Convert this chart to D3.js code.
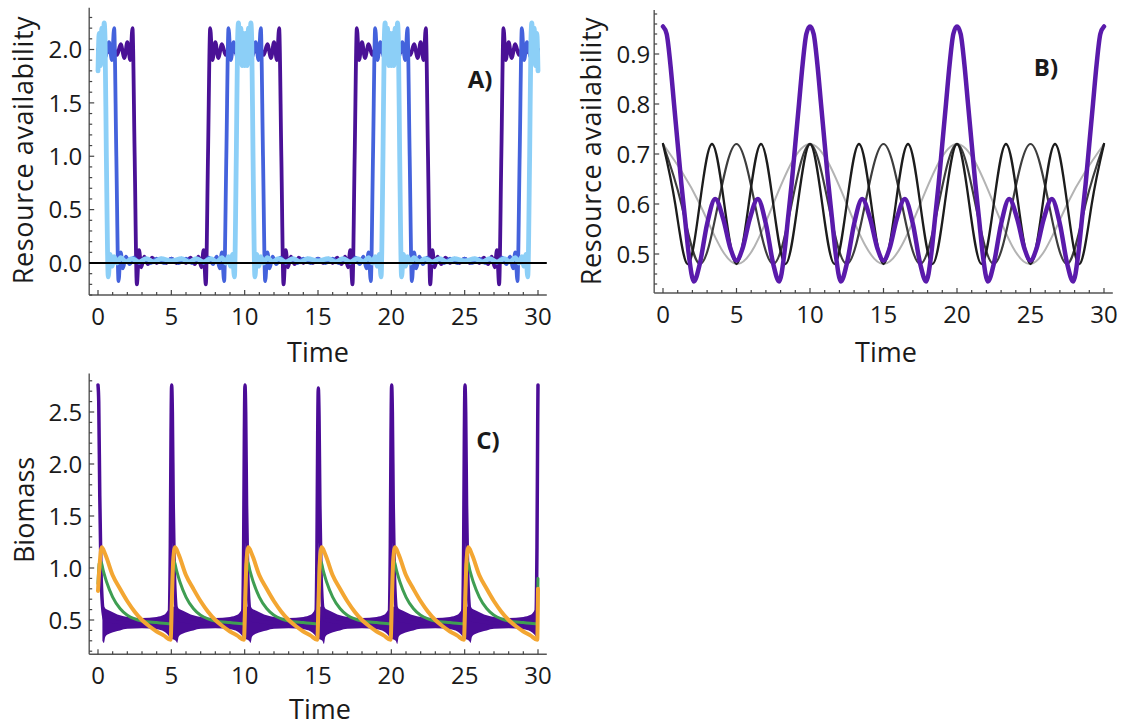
<!DOCTYPE html>
<html>
<head>
<meta charset="utf-8">
<script src="https://cdn.jsdelivr.net/npm/d3@7"></script>
<style>
body{margin:0;background:#fff;}
svg text{font-family:"Open Sans",sans-serif;fill:#1a1a1a;}
</style>
</head>
<body>
<svg id="chart" width="1124" height="728"></svg>
<script>
// ---- data ----
var timeTicks = [0, 5, 10, 15, 20, 25, 30];
var ticksA = [0, 0.5, 1, 1.5, 2];
var ticksB = [0.5, 0.6, 0.7, 0.8, 0.9];
var ticksC = [0.5, 1, 1.5, 2, 2.5];

// A) resource availability, three pulse widths
var purpleA = [[0,2.0],[0.2,2.01],[0.6,1.97],[1.0,2.03],[1.3,1.95],[1.55,2.05],[1.8,1.92],[2.0,2.07],[2.2,1.9],[2.35,2.2],[2.5,1.0],
[2.65,-0.2],[2.8,0.12],[2.95,-0.04],[3.15,0.06],[3.4,-0.01],[3.7,0.05],[4.0,0.0],[4.3,0.04],[4.65,0.0],[5.0,0.04],[5.35,0.0],[5.7,0.04],[6.0,0.0],[6.3,0.05],[6.6,-0.01],[6.85,0.06],[7.05,-0.04],[7.2,0.12],[7.35,-0.2],
[7.5,1.0],[7.65,2.2],[7.8,1.9],[8.0,2.07],[8.2,1.92],[8.45,2.05],[8.7,1.95],[9.0,2.03],[9.4,1.97],[9.8,2.01],[10.2,2.01],[10.6,1.97],[11.0,2.03],[11.3,1.95],[11.55,2.05],[11.8,1.92],[12.0,2.07],[12.2,1.9],[12.35,2.2],[12.5,1.0],
[12.65,-0.2],[12.8,0.12],[12.95,-0.04],[13.15,0.06],[13.4,-0.01],[13.7,0.05],[14.0,0.0],[14.3,0.04],[14.65,0.0],[15.0,0.04],[15.35,0.0],[15.7,0.04],[16.0,0.0],[16.3,0.05],[16.6,-0.01],[16.85,0.06],[17.05,-0.04],[17.2,0.12],[17.35,-0.2],
[17.5,1.0],[17.65,2.2],[17.8,1.9],[18.0,2.07],[18.2,1.92],[18.45,2.05],[18.7,1.95],[19.0,2.03],[19.4,1.97],[19.8,2.01],[20.2,2.01],[20.6,1.97],[21.0,2.03],[21.3,1.95],[21.55,2.05],[21.8,1.92],[22.0,2.07],[22.2,1.9],[22.35,2.2],[22.5,1.0],
[22.65,-0.2],[22.8,0.12],[22.95,-0.04],[23.15,0.06],[23.4,-0.01],[23.7,0.05],[24.0,0.0],[24.3,0.04],[24.65,0.0],[25.0,0.04],[25.35,0.0],[25.7,0.04],[26.0,0.0],[26.3,0.05],[26.6,-0.01],[26.85,0.06],[27.05,-0.04],[27.2,0.12],[27.35,-0.2],
[27.5,1.0],[27.65,2.2],[27.8,1.9],[28.0,2.07],[28.2,1.92],[28.45,2.05],[28.7,1.95],[29.0,2.03],[29.4,1.97],[29.8,2.01],[30.0,2.0]];

var blueA = [[0,1.98],[0.25,2.04],[0.5,1.93],[0.75,2.07],[0.95,1.9],[1.1,2.2],[1.25,1.0],
[1.4,-0.17],[1.55,0.1],[1.7,-0.05],[1.9,0.06],[2.15,-0.01],[2.45,0.05],[2.8,0.0],[3.2,0.04],[3.6,0.0],[4.0,0.04],[4.5,0.0],[5.0,0.04],[5.5,0.0],[6.0,0.04],[6.4,0.0],[6.8,0.04],[7.2,0.0],[7.55,0.05],[7.85,-0.01],[8.1,0.06],[8.3,-0.05],[8.45,0.1],[8.6,-0.17],
[8.75,1.0],[8.9,2.2],[9.05,1.9],[9.25,2.07],[9.5,1.93],[9.75,2.04],[10.0,1.98],[10.25,2.04],[10.5,1.93],[10.75,2.07],[10.95,1.9],[11.1,2.2],[11.25,1.0],
[11.4,-0.17],[11.55,0.1],[11.7,-0.05],[11.9,0.06],[12.15,-0.01],[12.45,0.05],[12.8,0.0],[13.2,0.04],[13.6,0.0],[14.0,0.04],[14.5,0.0],[15.0,0.04],[15.5,0.0],[16.0,0.04],[16.4,0.0],[16.8,0.04],[17.2,0.0],[17.55,0.05],[17.85,-0.01],[18.1,0.06],[18.3,-0.05],[18.45,0.1],[18.6,-0.17],
[18.75,1.0],[18.9,2.2],[19.05,1.9],[19.25,2.07],[19.5,1.93],[19.75,2.04],[20.0,1.98],[20.25,2.04],[20.5,1.93],[20.75,2.07],[20.95,1.9],[21.1,2.2],[21.25,1.0],
[21.4,-0.17],[21.55,0.1],[21.7,-0.05],[21.9,0.06],[22.15,-0.01],[22.45,0.05],[22.8,0.0],[23.2,0.04],[23.6,0.0],[24.0,0.04],[24.5,0.0],[25.0,0.04],[25.5,0.0],[26.0,0.04],[26.4,0.0],[26.8,0.04],[27.2,0.0],[27.55,0.05],[27.85,-0.01],[28.1,0.06],[28.3,-0.05],[28.45,0.1],[28.6,-0.17],
[28.75,1.0],[28.9,2.2],[29.05,1.9],[29.25,2.07],[29.5,1.93],[29.75,2.04],[30.0,1.98]];

var lightA = [[0,1.8],[0.08,2.15],[0.17,1.85],[0.26,2.2],[0.35,1.95],[0.42,2.25],[0.48,2.1],[0.57,1.0],
[0.7,-0.13],[0.82,0.08],[0.95,-0.03],[1.1,0.06],[1.3,0.0],[1.55,0.05],[1.9,0.01],[2.3,0.04],[2.8,0.01],[3.3,0.04],[3.8,0.01],[4.3,0.04],[5.0,0.02],[5.7,0.04],[6.2,0.01],[6.7,0.04],[7.2,0.01],[7.7,0.04],[8.1,0.01],[8.45,0.05],[8.7,0.0],[8.9,0.06],[9.05,-0.03],[9.18,0.08],[9.3,-0.13],
[9.43,1.0],[9.52,2.1],[9.58,2.25],[9.65,1.95],[9.74,2.2],[9.83,1.85],[9.92,2.15],[10.0,1.85],[10.08,2.15],[10.17,1.85],[10.26,2.2],[10.35,1.95],[10.42,2.25],[10.48,2.1],[10.57,1.0],
[10.7,-0.13],[10.82,0.08],[10.95,-0.03],[11.1,0.06],[11.3,0.0],[11.55,0.05],[11.9,0.01],[12.3,0.04],[12.8,0.01],[13.3,0.04],[13.8,0.01],[14.3,0.04],[15.0,0.02],[15.7,0.04],[16.2,0.01],[16.7,0.04],[17.2,0.01],[17.7,0.04],[18.1,0.01],[18.45,0.05],[18.7,0.0],[18.9,0.06],[19.05,-0.03],[19.18,0.08],[19.3,-0.13],
[19.43,1.0],[19.52,2.1],[19.58,2.25],[19.65,1.95],[19.74,2.2],[19.83,1.85],[19.92,2.15],[20.0,1.85],[20.08,2.15],[20.17,1.85],[20.26,2.2],[20.35,1.95],[20.42,2.25],[20.48,2.1],[20.57,1.0],
[20.7,-0.13],[20.82,0.08],[20.95,-0.03],[21.1,0.06],[21.3,0.0],[21.55,0.05],[21.9,0.01],[22.3,0.04],[22.8,0.01],[23.3,0.04],[23.8,0.01],[24.3,0.04],[25.0,0.02],[25.7,0.04],[26.2,0.01],[26.7,0.04],[27.2,0.01],[27.7,0.04],[28.1,0.01],[28.45,0.05],[28.7,0.0],[28.9,0.06],[29.05,-0.03],[29.18,0.08],[29.3,-0.13],
[29.43,1.0],[29.52,2.1],[29.58,2.25],[29.65,1.95],[29.74,2.2],[29.83,1.85],[29.92,2.15],[30.0,1.8]];

// B) resource availability, smooth oscillations
var purpleB = [[0,0.955],[0.25,0.94],[0.5,0.88],[0.75,0.8],[1.0,0.72],[1.25,0.64],[1.5,0.57],[1.75,0.5],[2.1,0.445],[2.5,0.48],[3.0,0.56],[3.55,0.61],[4.1,0.57],[4.6,0.51],[5.0,0.487],[5.4,0.51],[5.9,0.57],[6.45,0.61],[7.0,0.56],[7.5,0.48],[7.9,0.445],[8.25,0.5],[8.5,0.57],[8.75,0.64],[9.0,0.72],[9.25,0.8],[9.5,0.88],[9.75,0.94],[10.0,0.955],
[10.25,0.94],[10.5,0.88],[10.75,0.8],[11.0,0.72],[11.25,0.64],[11.5,0.57],[11.75,0.5],[12.1,0.445],[12.5,0.48],[13.0,0.56],[13.55,0.61],[14.1,0.57],[14.6,0.51],[15.0,0.487],[15.4,0.51],[15.9,0.57],[16.45,0.61],[17.0,0.56],[17.5,0.48],[17.9,0.445],[18.25,0.5],[18.5,0.57],[18.75,0.64],[19.0,0.72],[19.25,0.8],[19.5,0.88],[19.75,0.94],[20.0,0.955],
[20.25,0.94],[20.5,0.88],[20.75,0.8],[21.0,0.72],[21.25,0.64],[21.5,0.57],[21.75,0.5],[22.1,0.445],[22.5,0.48],[23.0,0.56],[23.55,0.61],[24.1,0.57],[24.6,0.51],[25.0,0.487],[25.4,0.51],[25.9,0.57],[26.45,0.61],[27.0,0.56],[27.5,0.48],[27.9,0.445],[28.25,0.5],[28.5,0.57],[28.75,0.64],[29.0,0.72],[29.25,0.8],[29.5,0.88],[29.75,0.94],[30.0,0.955]];

var blackB = [[0,0.72],[0.833,0.6],[1.667,0.48],[2.5,0.6],[3.333,0.72],[4.167,0.6],[5,0.48],[5.833,0.6],[6.667,0.72],[7.5,0.6],[8.333,0.48],[9.167,0.6],[10,0.72],[10.833,0.6],[11.667,0.48],[12.5,0.6],[13.333,0.72],[14.167,0.6],[15,0.48],[15.833,0.6],[16.667,0.72],[17.5,0.6],[18.333,0.48],[19.167,0.6],[20,0.72],[20.833,0.6],[21.667,0.48],[22.5,0.6],[23.333,0.72],[24.167,0.6],[25,0.48],[25.833,0.6],[26.667,0.72],[27.5,0.6],[28.333,0.48],[29.167,0.6],[30,0.72]];
var darkGrayB = [[0,0.72],[1.25,0.6],[2.5,0.48],[3.75,0.6],[5,0.72],[6.25,0.6],[7.5,0.48],[8.75,0.6],[10,0.72],[11.25,0.6],[12.5,0.48],[13.75,0.6],[15,0.72],[16.25,0.6],[17.5,0.48],[18.75,0.6],[20,0.72],[21.25,0.6],[22.5,0.48],[23.75,0.6],[25,0.72],[26.25,0.6],[27.5,0.48],[28.75,0.6],[30,0.72]];
var lightGrayB = [[0,0.72],[2.5,0.6],[5,0.48],[7.5,0.6],[10,0.72],[12.5,0.6],[15,0.48],[17.5,0.6],[20,0.72],[22.5,0.6],[25,0.48],[27.5,0.6],[30,0.72]];

// C) biomass
var purpleC = [[0,2.76],[0.05,2.6],[0.12,1.7],[0.2,1.0],[0.3,0.65],[0.45,0.5],[2.5,0.47],[4.85,0.5],
[4.93,1.2],[4.98,2.3],[5.02,2.76],[5.07,2.5],[5.13,1.6],[5.2,1.0],[5.3,0.65],[5.45,0.5],[7.5,0.47],[9.85,0.5],
[9.93,1.2],[9.98,2.3],[10.02,2.76],[10.07,2.5],[10.13,1.6],[10.2,1.0],[10.3,0.65],[10.45,0.5],[12.5,0.47],[14.85,0.5],
[14.93,1.2],[14.98,2.3],[15.02,2.73],[15.07,2.47],[15.13,1.6],[15.2,1.0],[15.3,0.65],[15.45,0.5],[17.5,0.47],[19.85,0.5],
[19.93,1.2],[19.98,2.3],[20.02,2.76],[20.07,2.5],[20.13,1.6],[20.2,1.0],[20.3,0.65],[20.45,0.5],[22.5,0.47],[24.85,0.5],
[24.93,1.2],[24.98,2.3],[25.02,2.76],[25.07,2.5],[25.13,1.6],[25.2,1.0],[25.3,0.65],[25.45,0.5],[27.5,0.47],[29.85,0.5],
[29.93,1.2],[29.98,2.4],[30.0,2.76]];

// fast oscillation envelope of the purple series: [time, low, high]
var purpleBandC = [[0.3,0.30,0.63],[0.4,0.28,0.63],[0.5,0.34,0.61],[0.8,0.37,0.59],[1.5,0.40,0.545],[2.0,0.415,0.53],[3.0,0.42,0.52],[4.0,0.41,0.53],[4.5,0.39,0.55],[4.75,0.36,0.59],[4.9,0.33,0.62],
[5.3,0.30,0.63],[5.4,0.28,0.63],[5.5,0.34,0.61],[5.8,0.37,0.59],[6.5,0.40,0.545],[7.0,0.415,0.53],[8.0,0.42,0.52],[9.0,0.41,0.53],[9.5,0.39,0.55],[9.75,0.36,0.59],[9.9,0.33,0.62],
[10.3,0.30,0.63],[10.4,0.28,0.63],[10.5,0.34,0.61],[10.8,0.37,0.59],[11.5,0.40,0.545],[12.0,0.415,0.53],[13.0,0.42,0.52],[14.0,0.41,0.53],[14.5,0.39,0.55],[14.75,0.36,0.59],[14.9,0.33,0.62],
[15.3,0.30,0.63],[15.4,0.27,0.63],[15.5,0.34,0.61],[15.8,0.37,0.59],[16.5,0.40,0.545],[17.0,0.415,0.53],[18.0,0.42,0.52],[19.0,0.41,0.53],[19.5,0.39,0.55],[19.75,0.36,0.59],[19.9,0.33,0.62],
[20.3,0.30,0.63],[20.4,0.27,0.63],[20.5,0.34,0.61],[20.8,0.37,0.59],[21.5,0.40,0.545],[22.0,0.415,0.53],[23.0,0.42,0.52],[24.0,0.41,0.53],[24.5,0.39,0.55],[24.75,0.36,0.59],[24.9,0.33,0.62],
[25.3,0.30,0.63],[25.4,0.28,0.63],[25.5,0.34,0.61],[25.8,0.37,0.59],[26.5,0.40,0.545],[27.0,0.415,0.53],[28.0,0.42,0.52],[29.0,0.41,0.53],[29.5,0.39,0.55],[29.75,0.36,0.59],[29.9,0.33,0.62]];

var greenC = [[0,0.85],[0.08,1.04],[0.18,1.07],[0.35,0.98],[0.6,0.86],[1.0,0.72],[1.5,0.61],[2.0,0.545],[2.5,0.51],[3.0,0.49],[4.0,0.475],[4.95,0.465],
[5.05,0.8],[5.1,1.04],[5.18,1.07],[5.35,0.98],[5.6,0.86],[6.0,0.72],[6.5,0.61],[7.0,0.545],[7.5,0.51],[8.0,0.49],[9.0,0.475],[9.95,0.465],
[10.05,0.8],[10.1,1.04],[10.18,1.07],[10.35,0.98],[10.6,0.86],[11.0,0.72],[11.5,0.61],[12.0,0.545],[12.5,0.51],[13.0,0.49],[14.0,0.475],[14.95,0.465],
[15.05,0.8],[15.1,1.04],[15.18,1.07],[15.35,0.98],[15.6,0.86],[16.0,0.72],[16.5,0.61],[17.0,0.545],[17.5,0.51],[18.0,0.49],[19.0,0.475],[19.95,0.465],
[20.05,0.8],[20.1,1.04],[20.18,1.07],[20.35,0.98],[20.6,0.86],[21.0,0.72],[21.5,0.61],[22.0,0.545],[22.5,0.51],[23.0,0.49],[24.0,0.475],[24.95,0.465],
[25.05,0.8],[25.1,1.04],[25.18,1.07],[25.35,0.98],[25.6,0.86],[26.0,0.72],[26.5,0.61],[27.0,0.545],[27.5,0.51],[28.0,0.49],[29.0,0.475],[29.95,0.465],
[30.0,0.9]];

var orangeC = [[0,0.78],[0.12,1.05],[0.25,1.2],[0.5,1.13],[1.0,0.93],[1.5,0.8],[2.0,0.68],[2.5,0.58],[3.0,0.5],[3.5,0.44],[4.0,0.39],[4.5,0.35],[4.95,0.31],
[5.05,0.75],[5.12,1.05],[5.25,1.2],[5.5,1.13],[6.0,0.93],[6.5,0.8],[7.0,0.68],[7.5,0.58],[8.0,0.5],[8.5,0.44],[9.0,0.39],[9.5,0.35],[9.95,0.31],
[10.05,0.75],[10.12,1.05],[10.25,1.2],[10.5,1.13],[11.0,0.93],[11.5,0.8],[12.0,0.68],[12.5,0.58],[13.0,0.5],[13.5,0.44],[14.0,0.39],[14.5,0.35],[14.95,0.31],
[15.05,0.75],[15.12,1.05],[15.25,1.2],[15.5,1.13],[16.0,0.93],[16.5,0.8],[17.0,0.68],[17.5,0.58],[18.0,0.5],[18.5,0.44],[19.0,0.39],[19.5,0.35],[19.95,0.31],
[20.05,0.75],[20.12,1.05],[20.25,1.2],[20.5,1.13],[21.0,0.93],[21.5,0.8],[22.0,0.68],[22.5,0.58],[23.0,0.5],[23.5,0.44],[24.0,0.39],[24.5,0.35],[24.95,0.31],
[25.05,0.75],[25.12,1.05],[25.25,1.2],[25.5,1.13],[26.0,0.93],[26.5,0.8],[27.0,0.68],[27.5,0.58],[28.0,0.5],[28.5,0.44],[29.0,0.39],[29.5,0.35],[29.95,0.31],
[30.0,0.8]];

// ---- layout ----
var svg = d3.select("#chart");
var fmt = d3.format(".1f");

var panelA = {
	x: d3.scaleLinear().domain([0, 30]).range([98, 538]),
	y: d3.scaleLinear().domain([0, 2]).range([263, 49.5]),
	xLo: -0.6, xHi: 30.6, yLo: -0.3, yHi: 2.39,
	yTicks: ticksA, yMinor: 0.1, labelGap: 7,
	title: "Resource availability", titleX: 33, titleY: 150,
	timeX: 318, timeY: 362, tag: "A)", tagX: 480, tagY: 88
};
var panelB = {
	x: d3.scaleLinear().domain([0, 30]).range([663, 1104]),
	y: d3.scaleLinear().domain([0.5, 0.9]).range([254, 54]),
	xLo: -0.6, xHi: 30.6, yLo: 0.422, yHi: 0.988,
	yTicks: ticksB, yMinor: 0.02, labelGap: 4,
	title: "Resource availability", titleX: 601, titleY: 151,
	timeX: 886, timeY: 362, tag: "B)", tagX: 1046, tagY: 76
};
var panelC = {
	x: d3.scaleLinear().domain([0, 30]).range([98, 538]),
	y: d3.scaleLinear().domain([0.5, 2.5]).range([620, 412]),
	xLo: -0.6, xHi: 30.6, yLo: 0.17, yHi: 2.87,
	yTicks: ticksC, yMinor: 0.1, labelGap: 7,
	title: "Biomass", titleX: 34, titleY: 510,
	timeX: 320, timeY: 719, tag: "C)", tagX: 488, tagY: 449
};

function drawFrame(p)
{
	var g = svg.append("g");
	var x0 = p.x(p.xLo), x1 = p.x(p.xHi);
	var y0 = p.y(p.yLo), y1 = p.y(p.yHi);

	g.append("line").attr("x1", x0).attr("x2", x1).attr("y1", y0).attr("y2", y0)
	  .attr("stroke", "#555").attr("stroke-width", 1.4);
	g.append("line").attr("x1", x0).attr("x2", x0).attr("y1", y0).attr("y2", y1)
	  .attr("stroke", "#555").attr("stroke-width", 1.4);

	// minor ticks on time every 1, major every 5
	d3.range(0, 30.001, 1).forEach(function(t){
		var major = timeTicks.indexOf(t) >= 0;
		g.append("line")
		  .attr("x1", p.x(t)).attr("x2", p.x(t))
		  .attr("y1", y0).attr("y2", y0 - (major ? 5 : 3))
		  .attr("stroke", "#444").attr("stroke-width", 1.2);
	});
	timeTicks.forEach(function(t){
		g.append("text").attr("x", p.x(t)).attr("y", y0 + 30)
		  .attr("text-anchor", "middle").attr("font-size", 24)
		  .text(t);
	});

	var first = Math.ceil(p.yLo / p.yMinor - 1e-6);
	var last = Math.floor(p.yHi / p.yMinor + 1e-6);
	for(var k = first; k <= last; k++)
	{
		var v = k * p.yMinor;
		var major = p.yTicks.some(function(m){ return Math.abs(m - v) < 1e-6; });
		g.append("line")
		  .attr("x1", x0).attr("x2", x0 + (major ? 5 : 3))
		  .attr("y1", p.y(v)).attr("y2", p.y(v))
		  .attr("stroke", "#444").attr("stroke-width", 1.2);
	}
	p.yTicks.forEach(function(v){
		g.append("text").attr("x", x0 - p.labelGap).attr("y", p.y(v))
		  .attr("dy", "0.36em").attr("text-anchor", "end").attr("font-size", 24)
		  .text(fmt(v));
	});

	g.append("text")
	  .attr("transform", "translate(" + p.titleX + "," + p.titleY + ") rotate(-90)")
	  .attr("text-anchor", "middle").attr("font-size", 27)
	  .attr("letter-spacing", p.title.length > 10 ? 0.6 : 0)
	  .text(p.title);
	g.append("text").attr("x", p.timeX).attr("y", p.timeY)
	  .attr("text-anchor", "middle").attr("font-size", 27)
	  .text("Time");
}

function drawLine(p, data, color, width, curve)
{
	var line = d3.line()
	    .x(function(d){ return p.x(d[0]); })
	    .y(function(d){ return p.y(d[1]); })
	    .curve(curve || d3.curveMonotoneX);
	svg.append("path").datum(data)
	  .attr("d", line)
	  .attr("fill", "none")
	  .attr("stroke", color)
	  .attr("stroke-width", width)
	  .attr("stroke-linejoin", "round")
	  .attr("stroke-linecap", "round");
}

function drawTag(p)
{
	svg.append("text").attr("x", p.tagX).attr("y", p.tagY)
	  .attr("text-anchor", "middle").attr("font-size", 24).attr("font-weight", "bold")
	  .text(p.tag);
}

// panel A
drawFrame(panelA);
drawLine(panelA, purpleA, "#4a1196", 3.8);
drawLine(panelA, blueA, "#4462dc", 3.8);
drawLine(panelA, lightA, "#8ccff7", 4.8);
svg.append("line")
  .attr("x1", panelA.x(panelA.xLo)).attr("x2", panelA.x(panelA.xHi))
  .attr("y1", panelA.y(0)).attr("y2", panelA.y(0))
  .attr("stroke", "#000").attr("stroke-width", 2);
drawTag(panelA);

// panel B
drawFrame(panelB);
drawLine(panelB, lightGrayB, "#b3b3b3", 2, d3.curveNatural);
drawLine(panelB, darkGrayB, "#3d3d3d", 2.2, d3.curveNatural);
drawLine(panelB, blackB, "#1c1c1c", 2.3, d3.curveNatural);
drawLine(panelB, purpleB, "#5a1aab", 4.5);
drawTag(panelB);

// panel C
drawFrame(panelC);
svg.append("path").datum(purpleBandC)
  .attr("d", d3.area()
      .x(function(d){ return panelC.x(d[0]); })
      .y0(function(d){ return panelC.y(d[1]); })
      .y1(function(d){ return panelC.y(d[2]); })
      .curve(d3.curveMonotoneX))
  .attr("fill", "#4b0c97");
drawLine(panelC, purpleC, "#4b0c97", 3.5);
drawLine(panelC, greenC, "#3f9e52", 3);
drawLine(panelC, orangeC, "#f3a632", 4);
drawTag(panelC);
</script>
</body>
</html>
